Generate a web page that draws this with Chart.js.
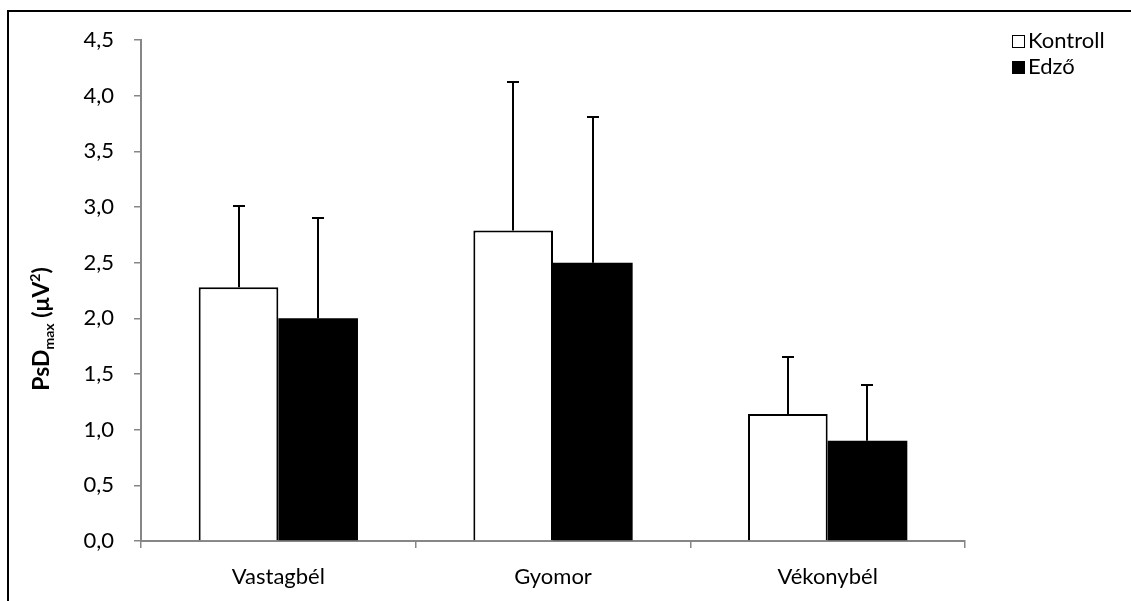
<!DOCTYPE html>
<html>
<head>
<meta charset="utf-8">
<script src="https://cdn.jsdelivr.net/npm/chart.js@4"></script>
<style>
    html, body { margin: 0; padding: 0; background: #fff; overflow: hidden; }
    #wrap { position: relative; width: 1131px; height: 601px; }
    #frame { position: absolute; left: 7px; top: 10px; width: 1200px; height: 700px; border: 2px solid #000; box-sizing: border-box; pointer-events: none; }
    #chart { position: absolute; left: 0; top: 0; }
    .legend { position: absolute; left: 1012px; font: 22px Lato, sans-serif; color: #000; line-height: 24px; }
    .legend span.box { display: inline-block; width: 11px; height: 11px; border: 1.5px solid #000; margin-right: 3px; vertical-align: 0px; }
    #ytitle { position: absolute; left: 41px; top: 329px; transform: translate(-50%, -50%) rotate(-90deg); font: bold 23px Lato, sans-serif; white-space: nowrap; color: #000; }
    #ytitle sub { font-size: 14px; vertical-align: -5px; }
    #ytitle sup { font-size: 14px; vertical-align: 9px; }
</style>
</head>
<body>
<div id="wrap">
    <canvas id="chart" width="1131" height="601"></canvas>
    <div id="frame"></div>
    <div class="legend" style="top: 28px;"><span class="box" style="background:#fff"></span>Kontroll</div>
    <div class="legend" style="top: 54px;"><span class="box" style="background:#000"></span>Edző</div>
    <div id="ytitle">PsD<sub>max</sub> (μV<sup>2</sup>)</div>
</div>
<script>
// PsDmax chart

const categories = ['Vastagbél', 'Gyomor', 'Vékonybél'];
const kontrollValues = [2.28, 2.79, 1.14];
const kontrollErrTop = [3.01, 4.12, 1.65];
const edzoValues = [2.00, 2.50, 0.90];
const edzoErrTop = [2.90, 3.81, 1.40];
const yTicks = [0, 0.5, 1, 1.5, 2, 2.5, 3, 3.5, 4, 4.5];

const axisGrey = '#868686';
const font = { family: 'Lato, sans-serif', size: 22 };

/**
 * Draw upward error bars with small caps
 */
const errorBars = {
    id: 'errorBars',
    afterDatasetsDraw(chart) {
        const ctx = chart.ctx;
        const yScale = chart.scales.y;
        const tops = [kontrollErrTop, edzoErrTop];
        ctx.save();
        ctx.strokeStyle = '#000';
        ctx.lineWidth = 2;
        chart.data.datasets.forEach((ds, di) => {
            const meta = chart.getDatasetMeta(di);
            meta.data.forEach((bar, i) => {
                const yTop = Math.round(yScale.getPixelForValue(tops[di][i]));
                const x = Math.round(bar.x);
                ctx.beginPath();
                ctx.moveTo(x, bar.y);
                ctx.lineTo(x, yTop);
                ctx.moveTo(x - 6, yTop);
                ctx.lineTo(x + 6, yTop);
                ctx.stroke();
            });
        });
        ctx.restore();
    }
};

const chart = new Chart(document.getElementById('chart').getContext('2d'), {
    type: 'bar',
    data: {
        labels: categories,
        datasets: [{
            label: 'Kontroll',
            data: kontrollValues,
            backgroundColor: '#fff',
            borderColor: '#000',
            borderWidth: 2
        }, {
            label: 'Edző',
            data: edzoValues,
            backgroundColor: '#000',
            borderColor: '#000',
            borderWidth: 0
        }]
    },
    options: {
        responsive: false,
        animation: false,
        devicePixelRatio: 1,
        layout: { padding: { top: 40, right: 166, bottom: 0, left: 0 } },
        datasets: { bar: { categoryPercentage: 0.58, barPercentage: 1 } },
        plugins: {
            legend: { display: false },
            tooltip: { enabled: false }
        },
        scales: {
            x: {
                grid: { display: true, offset: true, drawOnChartArea: false, color: axisGrey, tickLength: 7, lineWidth: 1.5 },
                border: { color: axisGrey, width: 2 },
                ticks: { color: '#000', font: font, padding: 16 },
                afterFit(scale) { scale.height = 60; }
            },
            y: {
                min: 0,
                max: 4.5,
                afterBuildTicks(scale) { scale.ticks = yTicks.map(v => ({ value: v })); },
                grid: { display: true, drawOnChartArea: false, color: axisGrey, tickLength: 7, lineWidth: 1.5 },
                border: { color: axisGrey, width: 2 },
                ticks: {
                    color: '#000',
                    font: font,
                    padding: 20,
                    callback: v => v.toFixed(1).replace('.', ',')
                },
                afterFit(scale) { scale.width = 141; }
            }
        }
    },
    plugins: [errorBars]
});
</script>
</body>
</html>
